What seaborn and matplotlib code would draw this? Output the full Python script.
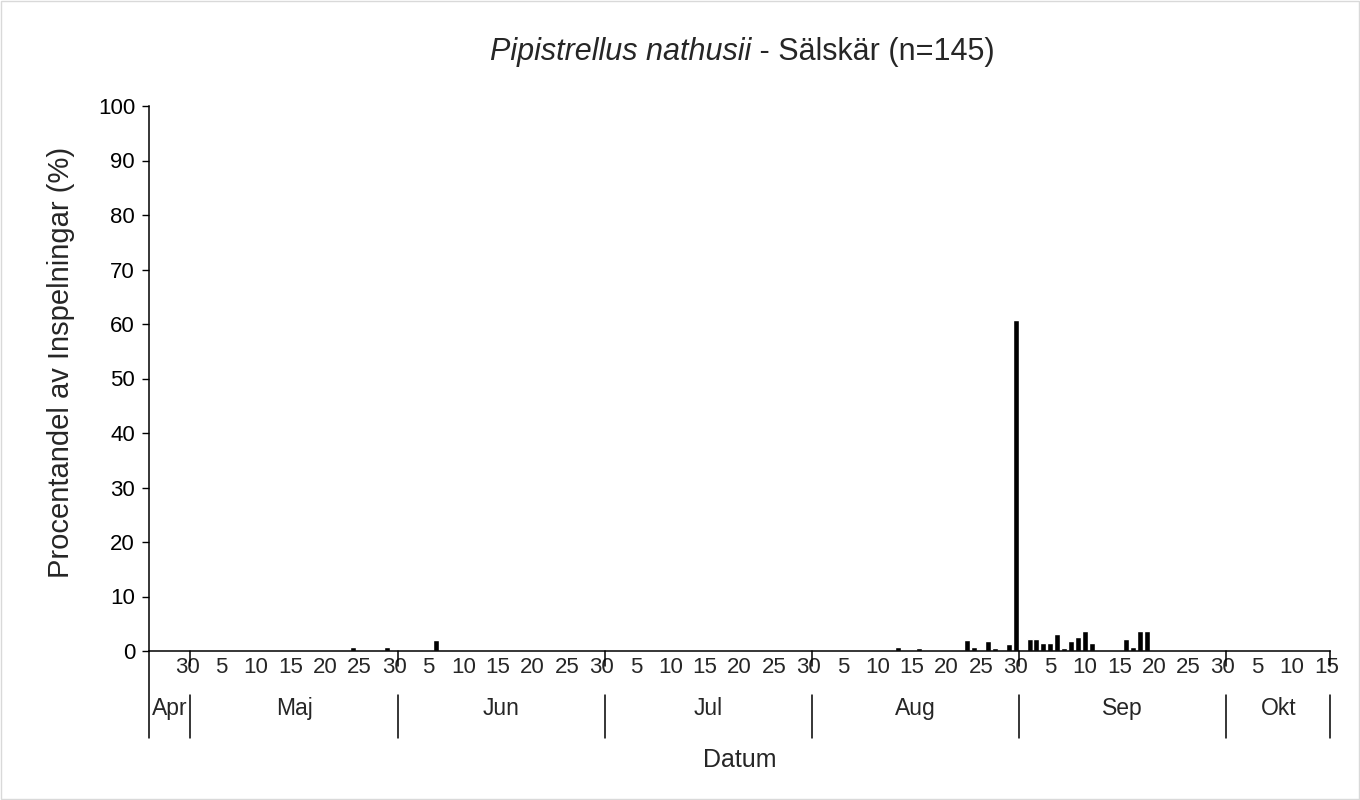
import numpy as np
import pandas as pd
import seaborn as sns
import matplotlib.pyplot as plt
from matplotlib import transforms
from matplotlib.patches import Rectangle
plt.switch_backend('agg')

sns.set_style('white')
plt.rcParams['font.family'] = ['Liberation Sans', 'DejaVu Sans']

# kategorier: dagar per månad så som i originalet (30 per månad)
manader = ['Apr', 'Maj', 'Jun', 'Jul', 'Aug', 'Sep', 'Okt']
forsta_dag = [25, 1, 1, 1, 1, 1, 1]
sista_dag = [30, 30, 30, 30, 30, 30, 15]

# dagar med inspelningar (månad, dag) och procent
obs_manad = ['Maj', 'Maj', 'Jun', 'Aug', 'Aug', 'Aug', 'Aug', 'Aug', 'Aug', 'Aug',
             'Aug', 'Sep', 'Sep', 'Sep', 'Sep', 'Sep', 'Sep', 'Sep', 'Sep', 'Sep',
             'Sep', 'Sep', 'Sep', 'Sep', 'Sep']
obs_dag = [24, 29, 6, 13, 16, 23, 24, 26, 27, 29,
           30, 2, 3, 4, 5, 6, 7, 8, 9, 10,
           11, 16, 17, 18, 19]
obs_procent = [0.7, 0.7, 2.1, 0.8, 0.5, 2.1, 0.8, 1.8, 0.5, 1.2,
               60.7, 2.2, 2.2, 1.5, 1.5, 3.2, 0.5, 1.8, 2.5, 3.6,
               1.5, 2.2, 0.8, 3.6, 3.6]

kat, dag_lista, man_lista = [], [], []
for m, d0, d1 in zip(manader, forsta_dag, sista_dag):
    for d in range(d0, d1 + 1):
        kat.append(f'{m} {d}')
        dag_lista.append(d)
        man_lista.append(m)

varden = dict(zip([f'{m} {d}' for m, d in zip(obs_manad, obs_dag)], obs_procent))
df = pd.DataFrame({'kat': kat, 'procent': [varden.get(k, 0.0) for k in kat]})

fig = plt.figure(figsize=(13.6, 8), dpi=100)
ax = fig.add_axes([149/1360, 1-651/800, (1330-149)/1360, (651-106)/800])

sns.barplot(data=df, x='kat', y='procent', order=kat, color='black',
            saturation=1, width=0.87, errorbar=None, ax=ax)

n = len(kat)
ax.set_xlim(-0.5, n - 0.5)
ax.set_ylim(0, 100)
ax.set_yticks(np.arange(0, 101, 10))
ax.tick_params(axis='y', direction='out', length=5, width=1, labelsize=16,
               left=True, pad=5, colors='black')
ax.set_xticks(range(n))
ax.set_xticklabels([str(d) if (d % 5 == 0 and i > 0) else '' for i, d in enumerate(dag_lista)],
                   fontsize=16)
ax.tick_params(axis='x', length=0, pad=4)
ax.set_xlabel('')
ax.set_ylabel('')
for s in ['top', 'right']:
    ax.spines[s].set_visible(False)
ax.spines['left'].set_color('black')
ax.spines['bottom'].set_color('black')
ax.spines['left'].set_linewidth(1.1)
ax.spines['bottom'].set_linewidth(1.1)

# månadsgränser och månadsnamn
trans = transforms.blended_transform_factory(ax.transData, ax.transAxes)
starts = [i for i in range(n) if i == 0 or man_lista[i] != man_lista[i - 1]]
grans = [s - 0.5 for s in starts] + [n - 0.5]
for j, g in enumerate(grans):
    if j == 0:
        ax.plot([g, g], [0, -0.16], transform=trans, color='black', lw=1.1, clip_on=False)
    else:
        ax.plot([g, g], [0, -0.028], transform=trans, color='black', lw=1.1, clip_on=False)
        ax.plot([g, g], [-0.08, -0.16], transform=trans, color='black', lw=1.1, clip_on=False)
for j, m in enumerate(manader):
    mitt = (grans[j] + grans[j + 1]) / 2
    ax.text(mitt, -0.105, m, transform=trans, ha='center', va='center', fontsize=16.5)

fig.text(739.5/1360, 1-760/800, 'Datum', ha='center', va='center', fontsize=18)
fig.text(61/1360, 1-362/800, 'Procentandel av Inspelningar (%)', rotation=90,
         ha='center', va='center', fontsize=21)

# titel: kursivt artnamn + vanlig text, centrerad tillsammans
ty = 1 - 52/800
t1 = fig.text(0.5, ty, 'Pipistrellus nathusii', style='italic', ha='left', va='center', fontsize=22)
t2 = fig.text(0.5, ty, ' - Sälskär (n=145)', ha='left', va='center', fontsize=22)
r = fig.canvas.get_renderer()
w1 = t1.get_window_extent(r).width
w2 = t2.get_window_extent(r).width
x0 = 742 - (w1 + w2) / 2
t1.set_x(x0 / 1360)
t2.set_x((x0 + w1) / 1360)

fig.patches.append(Rectangle((0.001, 0.001), 0.998, 0.998, transform=fig.transFigure,
                             fill=False, edgecolor='#D9D9D9', lw=1))

fig.savefig('out.png', dpi=100)
